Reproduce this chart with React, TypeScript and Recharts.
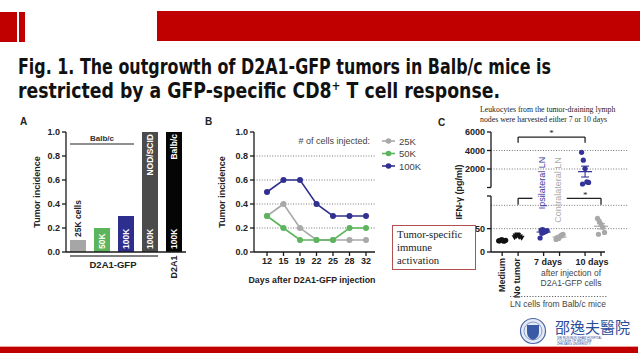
import React from 'react';
import {
  BarChart, Bar, Cell, XAxis, YAxis, LineChart, Line, ScatterChart, Scatter,
  CartesianGrid, LabelList, ReferenceLine, ErrorBar,
} from 'recharts';

const FONT = '"Liberation Sans", Arial, sans-serif';
const SERIF = '"Liberation Serif", "Times New Roman", serif';
const TITLE_FONT = '"Liberation Sans Narrow", "DejaVu Sans Condensed", "Liberation Sans", sans-serif';
const RED = '#c00000';
const AXIS = '#1a1a1a';

// ---------- Panel A ----------
const aCategories = ['25K', '50K', '100K', 'NOD/SCID', 'Balb/c'];
const aValues = [0.1, 0.2, 0.3, 1.0, 1.0];
const aColors = ['#a6a6a6', '#5cb55c', '#2e2e8e', '#4b4b4b', '#050505'];
const aDoseAbove = ['25K cells', '', '', '', ''];
const aDoseInside = ['', '50K', '100K', '100K', '100K'];
const aStrainInside = ['', '', '', 'NOD/SCID', 'Balb/c'];
const aTicks = [0, 0.2, 0.4, 0.6, 0.8, 1.0];

// ---------- Panel B ----------
const bDays = ['12', '15', '19', '22', '25', '28', '32'];
const b25K = [0.3, 0.4, 0.2, 0.1, 0.1, 0.1, 0.1];
const b50K = [0.3, 0.2, 0.1, 0.1, 0.1, 0.2, 0.2];
const b100K = [0.5, 0.6, 0.6, 0.4, 0.3, 0.3, 0.3];
const bSeriesNames = ['25K', '50K', '100K'];
const bColors = ['#a9a9a9', '#5cb55c', '#30308f'];
const bTicks = [0, 0.2, 0.4, 0.6, 0.8, 1.0];
const bGrid = [0.2, 0.4, 0.6, 0.8];

// ---------- Panel C ----------
const cGroupNames = ['Medium', 'No tumor', 'Ipsilateral 7 days', 'Contralateral 7 days', 'Ipsilateral 10 days', 'Contralateral 10 days'];
const cGroupPos = [0, 1, 2.6, 3.6, 5.2, 6.2];
const cMedium = [24, 25, 26, 23, 25, 24, 26];
const cNoTumor = [31, 34, 36, 33, 30, 35, 37, 32];
const cIpsi7 = [30, 40, 42, 44, 46, 47, 48, 45];
const cContra7 = [27, 30, 33, 36, 38, 31, 29];
const cIpsi10 = [3800, 2950, 2050, 600, 550, 380];
const cContra10 = [72, 66, 60, 53, 42, 38];
const cColors = ['#111111', '#111111', '#33339a', '#a8a8a8', '#33339a', '#a8a8a8'];
const cUpperTicks = [0, 2000, 4000, 6000];
const cLowerTicks = [0, 50, 100, 120];

const aData = aCategories.map((c, i) => ({
  name: c, value: aValues[i], above: aDoseAbove[i], inside: aDoseInside[i], strain: aStrainInside[i],
}));
const bData = bDays.map((d, i) => ({ day: d, k25: b25K[i], k50: b50K[i], k100: b100K[i] }));
const bKeys = ['k25', 'k50', 'k100'];

const cValues = [cMedium, cNoTumor, cIpsi7, cContra7, cIpsi10, cContra10];
const cShowMean = [false, false, true, true, true, true];
const cUpper = [false, false, false, false, true, false];
const jitter = (i: number) => ((i % 5) - 2) * 0.11 + (Math.floor(i / 5) % 2) * 0.06;
const cPoints = cValues.map((vals, g) => vals.map((v, i) => ({ x: cGroupPos[g] + jitter(i), y: v })));
const cMeans = cValues.map((vals, g) => {
  const m = vals.reduce((s, v) => s + v, 0) / vals.length;
  const sd = Math.sqrt(vals.reduce((s, v) => s + (v - m) * (v - m), 0) / (vals.length - 1));
  return [{ x: cGroupPos[g], y: m, err: sd / Math.sqrt(vals.length) }];
});

const tickStyle = { fontSize: 9, fontWeight: 'bold', fill: '#222', fontFamily: FONT } as any;

const AboveLabel = (p: any) => {
  if (!p.value) return null;
  const cx = p.x + p.width / 2;
  const y = p.y - 3;
  return (
    <text x={cx} y={y} transform={`rotate(-90 ${cx} ${y})`} textAnchor="start" dominantBaseline="central"
      fontSize={8.5} fontWeight="bold" fill="#222" fontFamily={FONT}>{p.value}</text>
  );
};
const InsideLabel = (p: any) => {
  if (!p.value) return null;
  const cx = p.x + p.width / 2;
  const y = p.y + p.height - 3;
  return (
    <text x={cx} y={y} transform={`rotate(-90 ${cx} ${y})`} textAnchor="start" dominantBaseline="central"
      fontSize={8.5} fontWeight="bold" fill="#fff" fontFamily={FONT}>{p.value}</text>
  );
};
const StrainLabel = (p: any) => {
  if (!p.value) return null;
  const cx = p.x + p.width / 2;
  const y = p.y + 2;
  return (
    <text x={cx} y={y} transform={`rotate(-90 ${cx} ${y})`} textAnchor="end" dominantBaseline="central"
      fontSize={8.5} fontWeight="bold" fill="#fff" fontFamily={FONT}>{p.value}</text>
  );
};

const dotShape = (color: string, kind: string) => (p: any) => {
  const { cx, cy } = p;
  if (kind === 'tri') {
    return <path d={`M${cx - 3},${cy - 2.2} L${cx + 3},${cy - 2.2} L${cx},${cy + 2.8} Z`} fill={color} />;
  }
  return <circle cx={cx} cy={cy} r={2.6} fill={color} />;
};
const meanShape = (color: string) => (p: any) => (
  <line x1={p.cx - 7} x2={p.cx + 7} y1={p.cy} y2={p.cy} stroke={color} strokeWidth={1.2} />
);

const RotText = ({ x, y, children, ...rest }: any) => (
  <text x={x} y={y} transform={`rotate(-90 ${x} ${y})`} textAnchor="middle" dominantBaseline="central" {...rest}>{children}</text>
);

function PanelC() {
  const segStyle = { stroke: '#222', strokeWidth: 1.3 };
  return (
    <>
      <div style={{ position: 'absolute', left: 440, top: 120 }}>
        <ScatterChart width={200} height={70} margin={{ top: 12, right: 35, left: 0, bottom: 2.5 }}>
          <XAxis type="number" dataKey="x" domain={[-0.7, 6.45]} hide height={0} />
          <XAxis xAxisId="top" type="number" orientation="top" domain={[-0.7, 6.45]} height={0}
            tick={false} tickLine={false} axisLine={{ stroke: AXIS, strokeWidth: 1.3 }} />
          <YAxis type="number" dataKey="y" domain={[0, 6000]} ticks={cUpperTicks} width={51}
            tickFormatter={(v: number) => (v === 0 ? '' : String(v))} tick={tickStyle} tickSize={4} tickMargin={2}
            axisLine={{ stroke: AXIS, strokeWidth: 1.3 }} tickLine={{ stroke: AXIS, strokeWidth: 1.3 }} allowDataOverflow />
          {[2000, 4000].map((g) => (
            <ReferenceLine key={g} segment={[{ x: -0.7, y: g }, { x: 7.9, y: g }]} ifOverflow="visible"
              stroke="#777" strokeDasharray="1 1.6" strokeWidth={1} />
          ))}
          <ReferenceLine segment={[{ x: 1, y: 5450 }, { x: 5.2, y: 5450 }]} ifOverflow="visible" {...segStyle}
            label={{ value: '*', position: 'top', fontSize: 9, fill: '#222', offset: 1 }} />
          <ReferenceLine segment={[{ x: 1, y: 5450 }, { x: 1, y: 4850 }]} ifOverflow="visible" {...segStyle} />
          <ReferenceLine segment={[{ x: 5.2, y: 5450 }, { x: 5.2, y: 4850 }]} ifOverflow="visible" {...segStyle} />
          {cValues.map((_, g) => cUpper[g] ? (
            <Scatter key={'p' + g} data={cPoints[g]} shape={dotShape(cColors[g], 'circle')} isAnimationActive={false} />
          ) : null)}
          {cValues.map((_, g) => cUpper[g] && cShowMean[g] ? (
            <Scatter key={'m' + g} data={cMeans[g]} shape={meanShape(cColors[g])} isAnimationActive={false}>
              <ErrorBar dataKey="err" direction="y" width={4} stroke={cColors[g]} strokeWidth={1.1} />
            </Scatter>
          ) : null)}
        </ScatterChart>
      </div>
      <div style={{ position: 'absolute', left: 440, top: 190 }}>
        <ScatterChart width={200} height={90} margin={{ top: 6, right: 35, left: 0, bottom: 22 }}>
          <XAxis type="number" dataKey="x" domain={[-0.7, 6.45]} ticks={cGroupPos} height={6}
            tickFormatter={() => ''} tickSize={4} axisLine={{ stroke: AXIS, strokeWidth: 1.3 }}
            tickLine={{ stroke: AXIS, strokeWidth: 1.3 }} />
          <YAxis type="number" dataKey="y" domain={[0, 120]} ticks={cLowerTicks} width={51}
            tickFormatter={(v: number) => (v === 120 ? '' : String(v))} tick={tickStyle} tickSize={4} tickMargin={2}
            axisLine={{ stroke: AXIS, strokeWidth: 1.3 }} tickLine={{ stroke: AXIS, strokeWidth: 1.3 }} allowDataOverflow />
          {[50, 100].map((g) => (
            <ReferenceLine key={g} segment={[{ x: -0.7, y: g }, { x: 7.9, y: g }]} ifOverflow="visible"
              stroke="#777" strokeDasharray="1 1.6" strokeWidth={1} />
          ))}
          <ReferenceLine segment={[{ x: 1, y: 115 }, { x: 1.9, y: 115 }]} ifOverflow="visible" {...segStyle} />
          <ReferenceLine segment={[{ x: 1, y: 115 }, { x: 1, y: 101 }]} ifOverflow="visible" {...segStyle} />
          <ReferenceLine segment={[{ x: 4.05, y: 115 }, { x: 6.2, y: 115 }]} ifOverflow="visible" {...segStyle} />
          <ReferenceLine segment={[{ x: 6.2, y: 115 }, { x: 6.2, y: 101 }]} ifOverflow="visible" {...segStyle} />
          <ReferenceLine segment={[{ x: 5.2, y: 117 }, { x: 5.21, y: 117 }]} ifOverflow="visible" stroke="none"
            label={{ value: '*', position: 'top', fontSize: 9, fill: '#222', offset: -1 }} />
          {cValues.map((_, g) => !cUpper[g] ? (
            <Scatter key={'p' + g} data={cPoints[g]} shape={dotShape(cColors[g], g === 1 ? 'tri' : 'circle')} isAnimationActive={false} />
          ) : null)}
          {cValues.map((_, g) => !cUpper[g] && cShowMean[g] ? (
            <Scatter key={'m' + g} data={cMeans[g]} shape={meanShape(cColors[g])} isAnimationActive={false}>
              <ErrorBar dataKey="err" direction="y" width={4} stroke={cColors[g]} strokeWidth={1.1} />
            </Scatter>
          ) : null)}
        </ScatterChart>
      </div>
    </>
  );
}

export default function App() {
  const lbl = { fontFamily: FONT, fontWeight: 'bold', fontSize: 9, fill: '#222' } as any;
  return (
    <div style={{ position: 'absolute', left: 0, top: 0, width: 640, height: 360, background: '#fff', overflow: 'hidden' }}>
      {/* Panel A */}
      <div style={{ position: 'absolute', left: 0, top: 110 }}>
        <BarChart width={200} height={180} data={aData} margin={{ top: 22, right: 14, left: 30, bottom: 36 }}>
          <XAxis dataKey="name" height={2} tick={false} tickLine={false} axisLine={{ stroke: AXIS, strokeWidth: 1.3 }} />
          <YAxis domain={[0, 1]} ticks={aTicks} width={36} tick={tickStyle} tickSize={4} tickMargin={2}
            tickFormatter={(v: number) => v.toFixed(1)}
            axisLine={{ stroke: AXIS, strokeWidth: 1.3 }} tickLine={{ stroke: AXIS, strokeWidth: 1.3 }} />
          <Bar dataKey="value" barSize={16} isAnimationActive={false}>
            {aData.map((d, i) => <Cell key={d.name} fill={aColors[i]} />)}
            <LabelList dataKey="above" content={AboveLabel} />
            <LabelList dataKey="inside" content={InsideLabel} />
            <LabelList dataKey="strain" content={StrainLabel} />
          </Bar>
        </BarChart>
      </div>

      {/* Panel B */}
      <div style={{ position: 'absolute', left: 200, top: 110 }}>
        <LineChart width={200} height={180} data={bData} margin={{ top: 22, right: 25, left: 0, bottom: 18 }}>
          <CartesianGrid vertical={false} horizontalValues={bGrid} stroke="#777" strokeDasharray="1 1.6" />
          <XAxis dataKey="day" scale="point" padding={{ left: 13, right: 9 }} height={20} tick={tickStyle}
            tickSize={4} tickMargin={2} interval={0}
            axisLine={{ stroke: AXIS, strokeWidth: 1.3 }} tickLine={{ stroke: AXIS, strokeWidth: 1.3 }} />
          <YAxis domain={[0, 1]} ticks={bTicks} width={54} tick={tickStyle} tickSize={4} tickMargin={2}
            tickFormatter={(v: number) => v.toFixed(1)}
            axisLine={{ stroke: AXIS, strokeWidth: 1.3 }} tickLine={{ stroke: AXIS, strokeWidth: 1.3 }} />
          {bKeys.map((k, i) => (
            <Line key={k} dataKey={k} name={bSeriesNames[i]} stroke={bColors[i]} strokeWidth={1.6}
              dot={{ r: 3, fill: bColors[i], stroke: bColors[i], strokeWidth: 0 }} isAnimationActive={false} />
          ))}
        </LineChart>
      </div>

      <PanelC />

      {/* Overlay texts & decorations */}
      <svg width={640} height={360} style={{ position: 'absolute', left: 0, top: 0, pointerEvents: 'none' }}>
        <rect x={0} y={12} width={17} height={30} fill={RED} />
        <rect x={19} y={12} width={6} height={30} fill={RED} />
        <rect x={157} y={11} width={483} height={30} fill={RED} />
        <rect x={0} y={347} width={638} height={6} fill={RED} />
        <rect x={0} y={346} width={638} height={1} fill="#e9a0a0" />

        <text x={18} y={74} fontSize={21} fontWeight="bold" fontFamily={TITLE_FONT} fill="#111"
          textLength={533} lengthAdjust="spacingAndGlyphs">Fig. 1. The outgrowth of D2A1-GFP tumors in Balb/c mice is</text>
        <text x={18} y={98} fontSize={21} fontWeight="bold" fontFamily={TITLE_FONT} fill="#111"
          textLength={482} lengthAdjust="spacingAndGlyphs">restricted by a GFP-specific CD8<tspan dy={-8} fontSize={13}>+</tspan><tspan dy={8}> T cell response.</tspan></text>

        {/* Panel A annotations */}
        <text x={20} y={125} fontFamily={FONT} fontWeight="bold" fontSize={10} fill="#222">A</text>
        <RotText x={37} y={192} {...lbl}>Tumor incidence</RotText>
        <line x1={70} x2={134} y1={144} y2={144} stroke="#222" strokeWidth={1.2} />
        <text x={102} y={141} textAnchor="middle" fontFamily={FONT} fontWeight="bold" fontSize={8} fill="#333">Balb/c</text>
        <line x1={70} x2={158} y1={256} y2={256} stroke="#555" strokeWidth={1.5} />
        <text x={113} y={268} textAnchor="middle" {...lbl} fontSize={9.5}>D2A1-GFP</text>
        <RotText x={174} y={267} {...lbl}>D2A1</RotText>

        {/* Panel B annotations */}
        <text x={205} y={125} fontFamily={FONT} fontWeight="bold" fontSize={10} fill="#222">B</text>
        <RotText x={222} y={192} {...lbl}>Tumor incidence</RotText>
        <text x={370} y={144} textAnchor="end" fontFamily={FONT} fontSize={9} fill="#444">{'# of cells injected:'}</text>
        {bSeriesNames.map((n, i) => (
          <g key={n}>
            <line x1={382} x2={395} y1={141 + i * 12.5} y2={141 + i * 12.5} stroke={bColors[i]} strokeWidth={1.6} />
            <circle cx={388.5} cy={141 + i * 12.5} r={2.8} fill={bColors[i]} />
            <text x={399} y={144.5 + i * 12.5} fontFamily={FONT} fontSize={9.5} fill="#444">{n}</text>
          </g>
        ))}
        <text x={312} y={283} textAnchor="middle" {...lbl} fontSize={8.8}>Days after D2A1-GFP injection</text>

        {/* Box */}
        <rect x={392.5} y={225.5} width={83} height={44} fill="#fff" stroke="#b05050" strokeWidth={1} />
        <text x={397} y={238} fontFamily={SERIF} fontSize={10.7} fill="#222">Tumor-specific</text>
        <text x={397} y={251} fontFamily={SERIF} fontSize={10.7} fill="#222">immune</text>
        <text x={397} y={264} fontFamily={SERIF} fontSize={10.7} fill="#222">activation</text>

        {/* Panel C annotations */}
        <text x={480} y={112} fontFamily={SERIF} fontSize={7.8} fill="#222">Leukocytes from the tumor-draining lymph</text>
        <text x={480} y={122} fontFamily={SERIF} fontSize={7.8} fill="#222">nodes were harvested either 7 or 10 days</text>
        <text x={438} y={126} fontFamily={FONT} fontWeight="bold" fontSize={10} fill="#222">C</text>
        <RotText x={459} y={192} {...lbl}>{'IFN-\u03b3 (pg/ml)'}</RotText>
        <RotText x={542} y={183} fontFamily={FONT} fontSize={9} fill="#3a3a9c">Ipsilateral LN</RotText>
        <RotText x={558} y={190} fontFamily={FONT} fontSize={9} fill="#aaaaaa">Contralateral LN</RotText>
        <text x={502} y={258} transform="rotate(-90 502 258)" textAnchor="end" dominantBaseline="central" {...lbl}>Medium</text>
        <text x={517} y={258} transform="rotate(-90 517 258)" textAnchor="end" dominantBaseline="central" {...lbl}>No tumor</text>
        <text x={548} y={265} textAnchor="middle" {...lbl}>7 days</text>
        <text x={592} y={265} textAnchor="middle" {...lbl}>10 days</text>
        <text x={571} y={276} textAnchor="middle" fontFamily={FONT} fontSize={8.5} fill="#444">after injection of</text>
        <text x={571} y={286} textAnchor="middle" fontFamily={FONT} fontSize={8.5} fill="#444">D2A1-GFP cells</text>
        <line x1={510} x2={607} y1={296.5} y2={296.5} stroke="#666" strokeDasharray="1.2 1.6" />
        <text x={558} y={307} textAnchor="middle" fontFamily={FONT} fontSize={8.5} fill="#444">LN cells from Balb/c mice</text>

        {/* Logo */}
        <circle cx={533} cy={331} r={12.5} fill="#e6ecf6" stroke="#4a66a8" strokeWidth={1.2} />
        <circle cx={533} cy={331} r={9} fill="none" stroke="#4a66a8" strokeWidth={0.6} />
        <path d="M527,325 L539,325 L539,332 Q539,338 533,340 Q527,338 527,332 Z" fill="#3b5aa5" />
        <text x={555} y={333} fontFamily={'"Noto Sans CJK TC", "Noto Sans CJK SC", sans-serif'} fontSize={15} fill="#2b4c9b">邵逸夫醫院</text>
        <text x={557} y={338.5} fontFamily={FONT} fontSize={3} fill="#2b4c9b">SIR RUN RUN SHAW HOSPITAL</text>
        <text x={557} y={341.5} fontFamily={FONT} fontSize={3} fill="#2b4c9b">COLLEGE OF MEDICINE</text>
        <text x={557} y={344.5} fontFamily={FONT} fontSize={3} fill="#2b4c9b">ZHEJIANG UNIVERSITY</text>
      </svg>
    </div>
  );
}
